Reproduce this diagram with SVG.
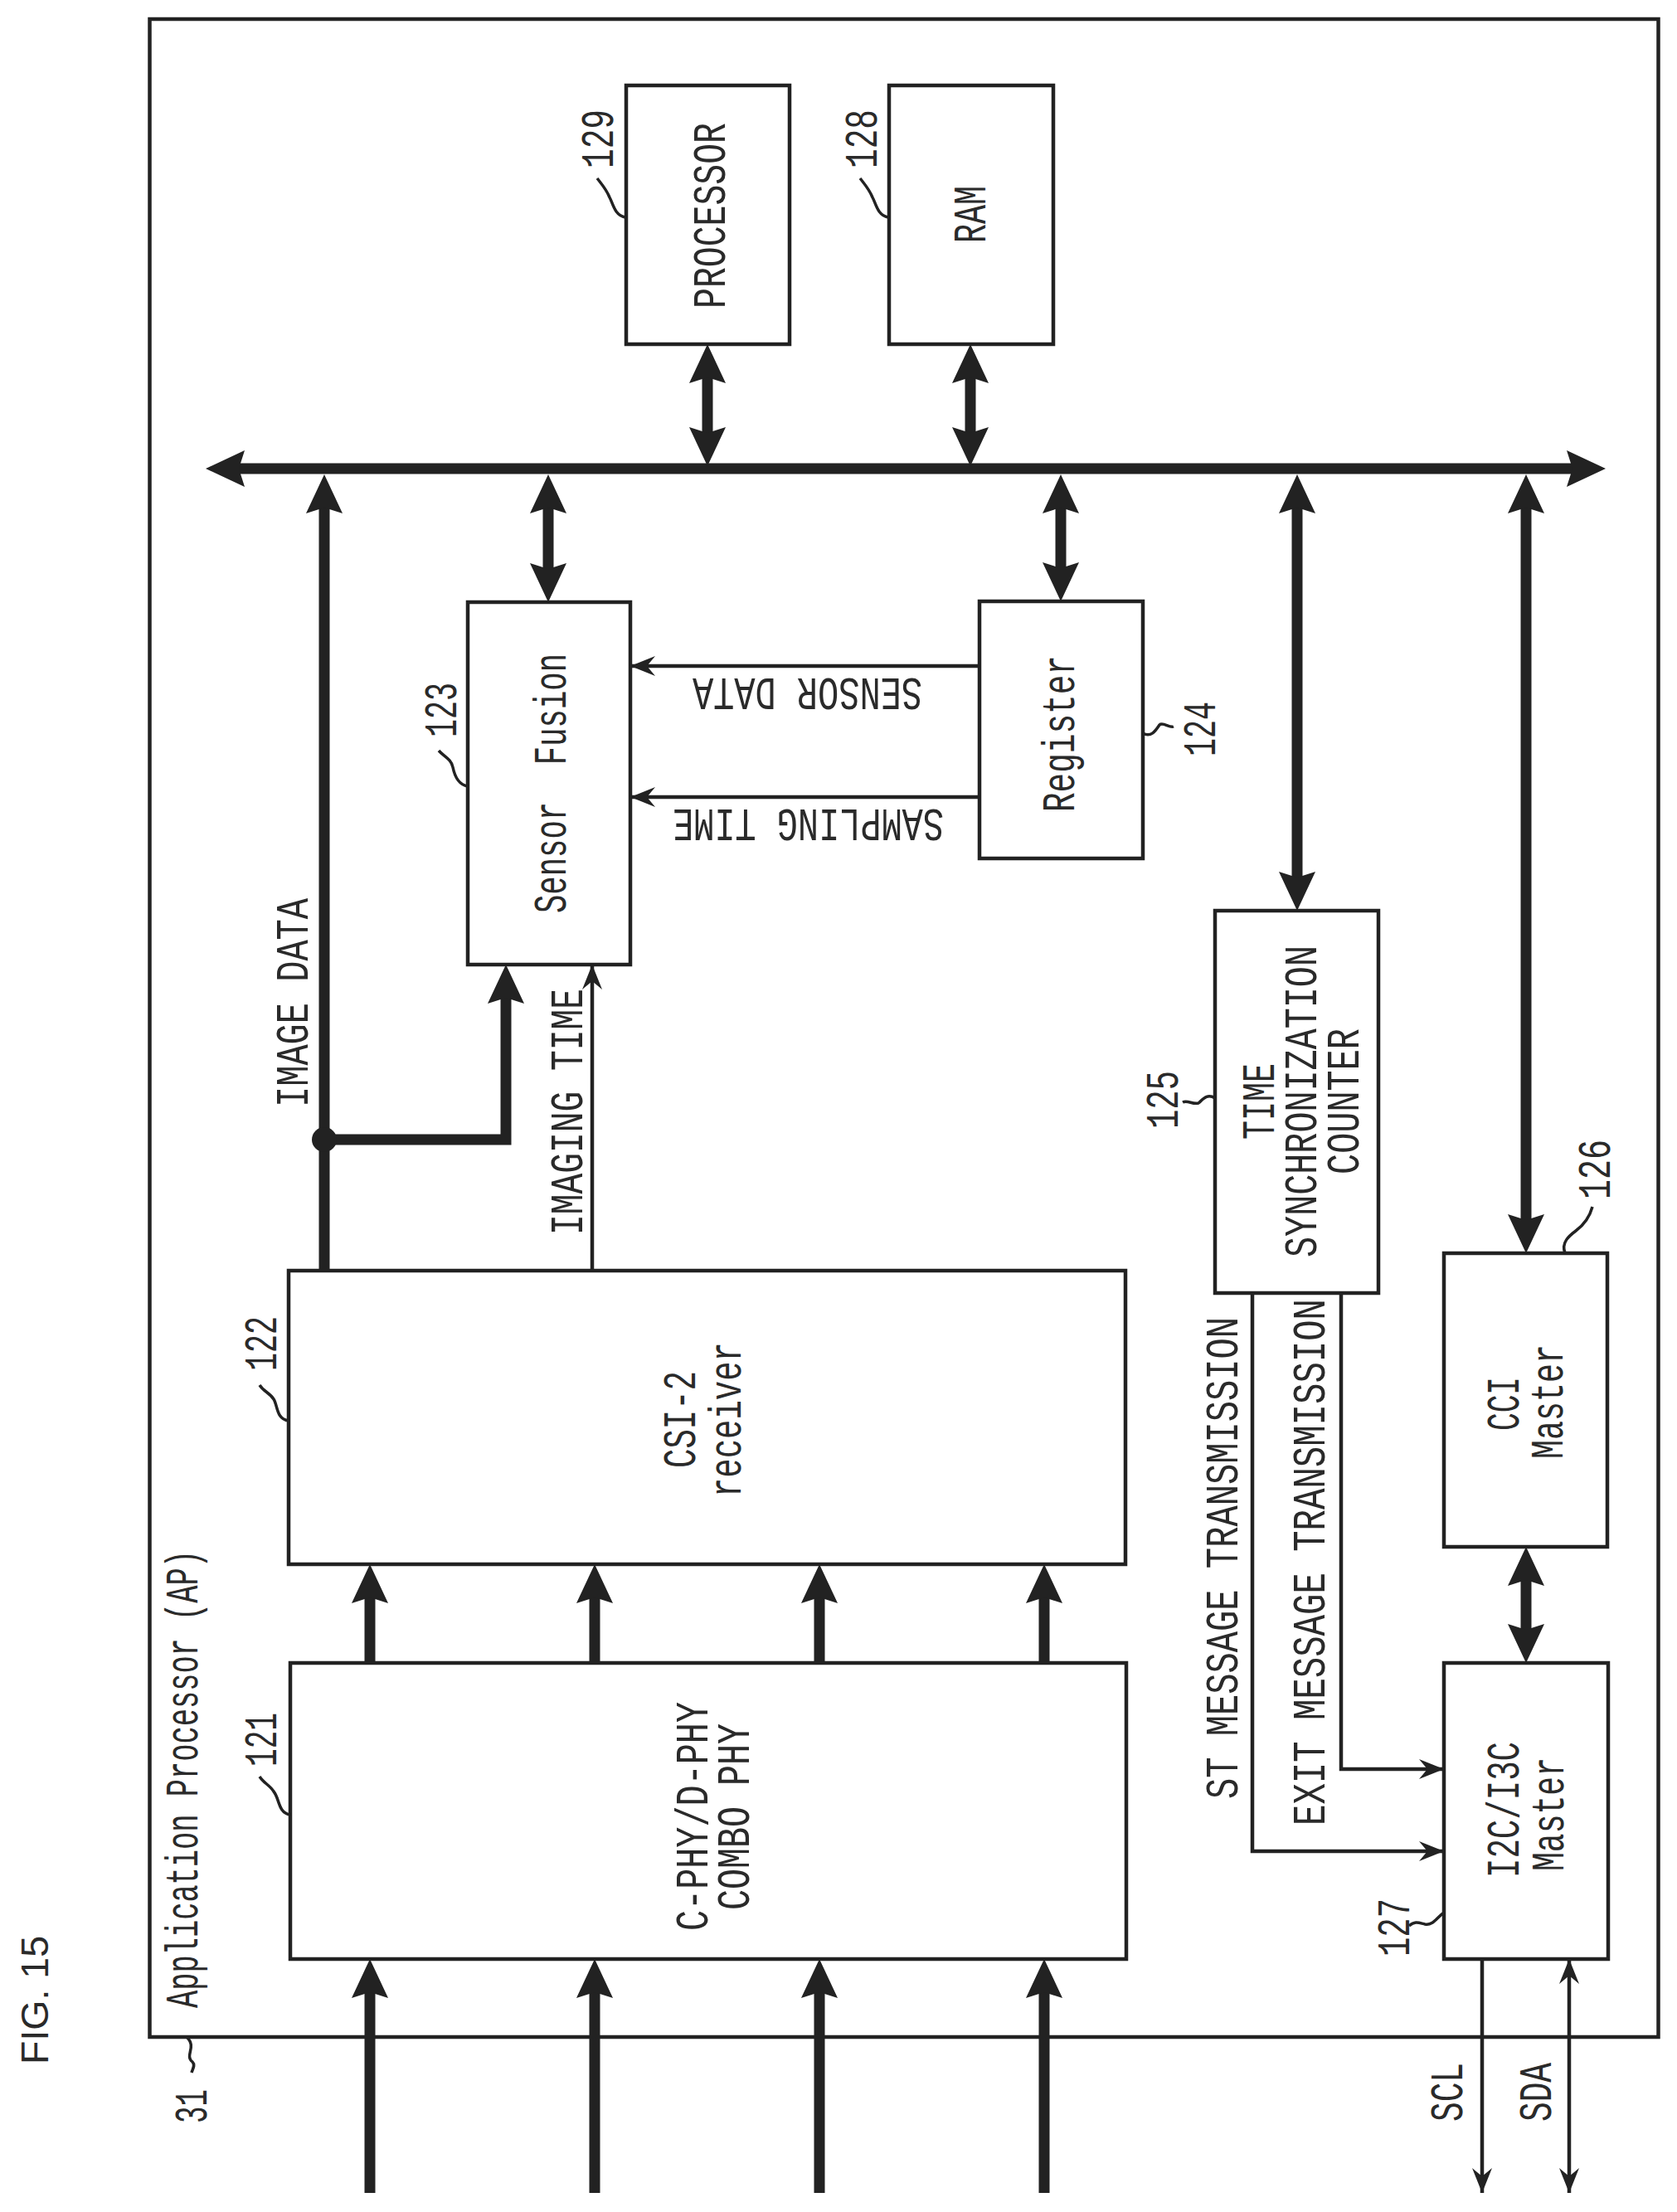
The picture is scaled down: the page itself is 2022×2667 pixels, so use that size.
<svg xmlns="http://www.w3.org/2000/svg" width="2022" height="2667" viewBox="0 0 2022 2667">
<style>
text{font-family:"Liberation Mono",monospace;font-size:56px;fill:#2a2a2a}
.l{font-family:"Liberation Sans",Arial,sans-serif;font-size:46px;fill:#2a2a2a}
.b{fill:#fff;stroke:#222;stroke-width:4.5}
.o{fill:none;stroke:#222;stroke-width:4.5}
.q{fill:none;stroke:#222;stroke-width:3.5}
.h{fill:none;stroke:#222;stroke-width:13}
.t{fill:none;stroke:#222;stroke-width:4.5}
</style>
<defs>
<marker id="heavy" viewBox="0 0 47 44" markerUnits="userSpaceOnUse" markerWidth="47" markerHeight="44" refX="17" refY="22" orient="auto-start-reverse"><path d="M0,0L47,22L0,44L7,22Z" fill="#222"/></marker>
<marker id="thin" viewBox="0 0 30 24" markerUnits="userSpaceOnUse" markerWidth="30" markerHeight="24" refX="30" refY="12" orient="auto-start-reverse"><path d="M0,0L30,12L0,24L10,12Z" fill="#222"/></marker>
</defs>
<rect width="2022" height="2667" fill="#fff"/>
<text class="l" transform="translate(58,2489) rotate(-90)" textLength="155" lengthAdjust="spacingAndGlyphs">FIG. 15</text>
<g id="ap31">
<rect class="o" x="180.500" y="23" width="1819" height="2433"/>
<text transform="translate(238,2421) rotate(-90)" textLength="552" lengthAdjust="spacingAndGlyphs">Application Processor (AP)</text>
<path class="q" d="M225,2456C238,2468 222,2478 232,2486C236,2490 232,2495 231,2499"/>
<text transform="translate(249,2560) rotate(-90)" textLength="41" lengthAdjust="spacingAndGlyphs">31</text>
</g>
<g id="n121">
<rect class="b" x="350" y="2005" width="1008" height="357"/>
<path class="q" d="M350,2188C335,2186 337,2168 330,2160C325,2152 318,2150 313,2142"/>
<text transform="translate(333,2130) rotate(-90)" textLength="65" lengthAdjust="spacingAndGlyphs">121</text>
<text transform="translate(853,2328) rotate(-90)" textLength="276" lengthAdjust="spacingAndGlyphs">C-PHY/D-PHY</text>
<text transform="translate(903,2303) rotate(-90)" textLength="225" lengthAdjust="spacingAndGlyphs">COMBO PHY</text>
</g>
<g id="n122">
<rect class="b" x="348" y="1532" width="1009" height="354"/>
<path class="q" d="M348,1713C333,1711 335,1695 330,1687C325,1679 318,1678 313,1670"/>
<text transform="translate(333,1653) rotate(-90)" textLength="66" lengthAdjust="spacingAndGlyphs">122</text>
<text transform="translate(838,1770) rotate(-90)" textLength="117" lengthAdjust="spacingAndGlyphs">CSI-2</text>
<text transform="translate(893,1805) rotate(-90)" textLength="187" lengthAdjust="spacingAndGlyphs">receiver</text>
</g>
<g id="n123">
<rect class="b" x="564" y="726" width="196" height="437"/>
<path class="q" d="M564,948C552,946 548,935 546,925C544,915 535,912 529,905"/>
<text transform="translate(550,889) rotate(-90)" textLength="66" lengthAdjust="spacingAndGlyphs">123</text>
<text xml:space="preserve" transform="translate(682,1101) rotate(-90)" textLength="313" lengthAdjust="spacingAndGlyphs">Sensor  Fusion</text>
</g>
<g id="n124">
<rect class="b" x="1181" y="725" width="197" height="310"/>
<path class="q" d="M1378,884C1388,890 1394,880 1398,874C1402,870 1410,878 1415,876"/>
<text transform="translate(1465,912) rotate(-90)" textLength="66" lengthAdjust="spacingAndGlyphs">124</text>
<text transform="translate(1295,979) rotate(-90)" textLength="189" lengthAdjust="spacingAndGlyphs">Register</text>
</g>
<g id="n125">
<rect class="b" x="1465" y="1098" width="197" height="461"/>
<path class="q" d="M1465,1324C1455,1318 1450,1326 1445,1330C1438,1332 1432,1326 1426,1329"/>
<text transform="translate(1420,1361) rotate(-90)" textLength="70" lengthAdjust="spacingAndGlyphs">125</text>
<text transform="translate(1536,1374) rotate(-90)" textLength="92" lengthAdjust="spacingAndGlyphs">TIME</text>
<text transform="translate(1587,1516) rotate(-90)" textLength="376" lengthAdjust="spacingAndGlyphs">SYNCHRONIZATION</text>
<text transform="translate(1638,1416) rotate(-90)" textLength="176" lengthAdjust="spacingAndGlyphs">COUNTER</text>
</g>
<g id="n126">
<rect class="b" x="1741" y="1511" width="197" height="354"/>
<path class="q" d="M1887,1511C1882,1498 1892,1490 1900,1484C1908,1478 1916,1470 1920,1455"/>
<text transform="translate(1941,1446) rotate(-90)" textLength="72" lengthAdjust="spacingAndGlyphs">126</text>
<text transform="translate(1831,1725) rotate(-90)" textLength="65" lengthAdjust="spacingAndGlyphs">CCI</text>
<text transform="translate(1884,1759) rotate(-90)" textLength="138" lengthAdjust="spacingAndGlyphs">Master</text>
</g>
<g id="n127">
<rect class="b" x="1741" y="2005" width="198" height="357"/>
<path class="q" d="M1741,2306C1732,2312 1728,2322 1718,2320C1710,2318 1706,2316 1699,2322"/>
<text transform="translate(1699,2359) rotate(-90)" textLength="70" lengthAdjust="spacingAndGlyphs">127</text>
<text transform="translate(1831,2264) rotate(-90)" textLength="164" lengthAdjust="spacingAndGlyphs">I2C/I3C</text>
<text transform="translate(1885,2256) rotate(-90)" textLength="137" lengthAdjust="spacingAndGlyphs">Master</text>
</g>
<g id="n128">
<rect class="b" x="1072" y="103" width="198" height="312"/>
<path class="q" d="M1071,262C1058,260 1056,245 1052,238C1048,228 1044,224 1037,215"/>
<text transform="translate(1057,203) rotate(-90)" textLength="71" lengthAdjust="spacingAndGlyphs">128</text>
<text transform="translate(1188,293) rotate(-90)" textLength="69" lengthAdjust="spacingAndGlyphs">RAM</text>
</g>
<g id="n129">
<rect class="b" x="755" y="103" width="197" height="312"/>
<path class="q" d="M754,262C741,260 739,245 735,238C731,228 727,224 720,215"/>
<text transform="translate(739,203) rotate(-90)" textLength="71" lengthAdjust="spacingAndGlyphs">129</text>
<text transform="translate(874,372) rotate(-90)" textLength="224" lengthAdjust="spacingAndGlyphs">PROCESSOR</text>
</g>
<g id="connectors">
<path class="h" marker-start="url(#heavy)" marker-end="url(#heavy)" d="M278,565H1906"/>
<path class="h" marker-end="url(#heavy)" d="M446,2644V2392"/>
<path class="h" marker-end="url(#heavy)" d="M717,2644V2392"/>
<path class="h" marker-end="url(#heavy)" d="M988,2644V2392"/>
<path class="h" marker-end="url(#heavy)" d="M1259,2644V2392"/>
<path class="h" marker-end="url(#heavy)" d="M446,2005V1916"/>
<path class="h" marker-end="url(#heavy)" d="M717,2005V1916"/>
<path class="h" marker-end="url(#heavy)" d="M988,2005V1916"/>
<path class="h" marker-end="url(#heavy)" d="M1259,2005V1916"/>
<path class="h" marker-start="url(#heavy)" marker-end="url(#heavy)" d="M853,445V532"/>
<path class="h" marker-start="url(#heavy)" marker-end="url(#heavy)" d="M1170,445V532"/>
<path class="h" marker-end="url(#heavy)" d="M391,1532V602"/>
<path class="h" marker-start="url(#heavy)" marker-end="url(#heavy)" d="M661,602V696"/>
<path class="h" marker-start="url(#heavy)" marker-end="url(#heavy)" d="M1279,602V695"/>
<path class="h" marker-start="url(#heavy)" marker-end="url(#heavy)" d="M1564,602V1068"/>
<path class="h" marker-start="url(#heavy)" marker-end="url(#heavy)" d="M1840,602V1481"/>
<path class="h" marker-start="url(#heavy)" marker-end="url(#heavy)" d="M1840,1895V1975"/>
<path class="h" marker-end="url(#heavy)" d="M391,1374H610V1193"/>
<circle cx="391" cy="1374" r="15" fill="#222"/>
<path class="t" marker-end="url(#thin)" d="M714,1532V1163"/>
<path class="t" marker-end="url(#thin)" d="M1181,803H760"/>
<path class="t" marker-end="url(#thin)" d="M1181,961H760"/>
<path class="t" marker-end="url(#thin)" d="M1510,1559V2232H1741"/>
<path class="t" marker-end="url(#thin)" d="M1617,1559V2133H1741"/>
<path class="t" marker-end="url(#thin)" d="M1787,2362V2644"/>
<path class="t" marker-start="url(#thin)" marker-end="url(#thin)" d="M1892,2362V2644"/>
</g>
<text transform="translate(371,1335) rotate(-90)" textLength="252" lengthAdjust="spacingAndGlyphs">IMAGE DATA</text>
<text transform="translate(702,1489) rotate(-90)" textLength="297" lengthAdjust="spacingAndGlyphs">IMAGING TIME</text>
<text transform="translate(1112,818) rotate(180)" textLength="277" lengthAdjust="spacingAndGlyphs">SENSOR DATA</text>
<text transform="translate(1138,976) rotate(180)" textLength="327" lengthAdjust="spacingAndGlyphs">SAMPLING TIME</text>
<text transform="translate(1492,2169) rotate(-90)" textLength="581" lengthAdjust="spacingAndGlyphs">ST MESSAGE TRANSMISSION</text>
<text transform="translate(1597,2201) rotate(-90)" textLength="635" lengthAdjust="spacingAndGlyphs">EXIT MESSAGE TRANSMISSION</text>
<text transform="translate(1763,2558) rotate(-90)" textLength="71" lengthAdjust="spacingAndGlyphs">SCL</text>
<text transform="translate(1870,2558) rotate(-90)" textLength="71" lengthAdjust="spacingAndGlyphs">SDA</text>
</svg>
